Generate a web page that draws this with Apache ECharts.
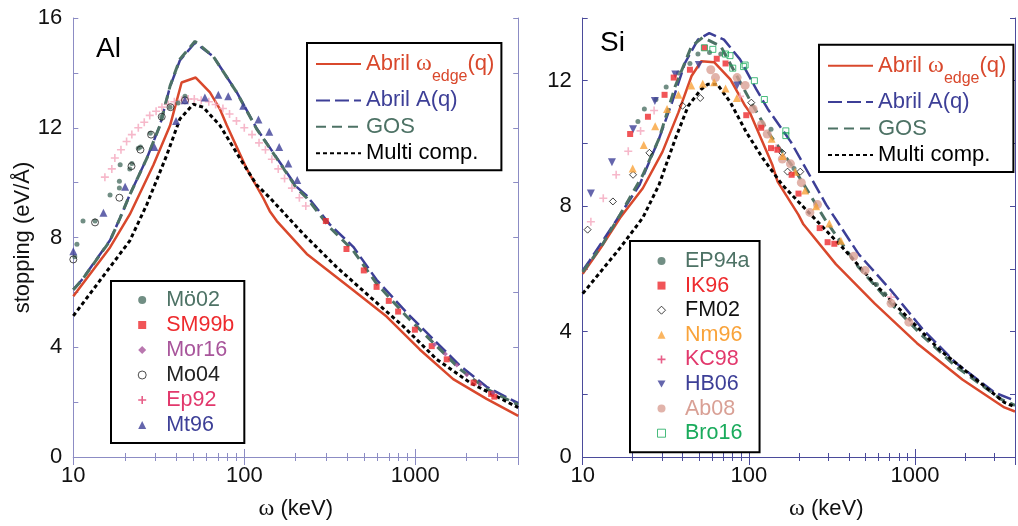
<!DOCTYPE html>
<html>
<head>
<meta charset="utf-8">
<script src="https://cdn.jsdelivr.net/npm/echarts@6/dist/echarts.min.js"></script>
<style>
  html, body { margin: 0; padding: 0; background: #fff; }
  #chart { width: 1018px; height: 526px; }
</style>
</head>
<body>
<div id="chart"></div>
<script>
// ---- data: [omega (keV), stopping (eV/Å)] ----
var xTickLabels = [10, 100, 1000];
var yTickLabels = [0, 4, 8, 12, 16];

// Al, theory curves
var alEdge  = [[10,5.86],[16.4,7.64],[21.4,8.84],[29.4,10.64],[36.8,12.08],[43,13.65],[52,13.83],[63,13.29],[72,12.68],[79,12.09],[103,10.52],[129,9.44],[141,8.96],[155,8.6],[232,7.4],[434,6.08],[680,5.12],[1062,3.92],[1667,2.84],[2612,2.12],[4000,1.5]];
var alAq    = [[10,6.1],[11.2,6.45],[16.4,7.9],[18.8,8.72],[21.4,9.56],[26.9,10.88],[32.1,12.08],[36.8,13.5],[42,14.45],[51.5,15.1],[65.9,14.6],[90.3,13.3],[118,11.98],[155,10.9],[202,9.85],[232,9.52],[317,8.47],[434,7.66],[594,6.46],[891,5.26],[1276,4.29],[1825,3.33],[2612,2.56],[4000,1.96]];
var alGos   = [[10,6.1],[11.2,6.44],[16.4,7.88],[18.8,8.72],[21.4,9.56],[26.9,10.88],[32.1,12.08],[36.8,13.52],[42,14.5],[51.5,15.15],[65.9,14.6],[90.3,13.29],[118,11.96],[155,10.88],[202,9.8],[232,9.44],[317,8.36],[434,7.52],[594,6.32],[891,5.12],[1276,4.16],[1825,3.2],[2612,2.48],[4000,1.9]];
var alMulti = [[10,5.14],[21.4,7.88],[26.9,9.2],[35.2,11.0],[42,12.32],[50.3,12.86],[57.5,12.75],[72.1,12.08],[94.4,10.88],[118,9.92],[141,9.45],[222,8.12],[347,6.92],[543,5.84],[852,4.76],[1334,3.56],[2090,2.71],[4000,1.8]];

// Al, experiments
var moe02 = [[10.2,7.3],[10.5,7.75],[11.4,8.6],[13.4,8.6],[16.4,9.55],[18.6,9.8],[18.6,10.05],[18.8,10.65],[21.4,10.5],[22,10.7],[24,11.25],[24.7,11.3],[28.2,11.8],[32.9,12.4],[36.8,12.75],[41,12.9],[45,13.15]];
var sm99b = [[300,8.6],[396,7.58],[500,6.8],[594,6.2],[700,5.69],[794,5.3],[995,4.64],[1248,4.04],[1528,3.56],[2193,2.71],[2778,2.3],[2900,2.2]];
var mor16 = [[1300,4.1],[1500,3.75],[1750,3.35],[2000,3.0],[2400,2.65],[2850,2.35]];
var mo04  = [[10,7.2],[13.4,8.55],[18.6,9.45],[21.9,10.6],[24.7,11.2],[28.5,11.75],[32.9,12.4],[37,12.75],[45,13.0]];
var ep92  = [[15.3,10.2],[16.8,10.5],[17.5,10.9],[19,11.2],[20.5,11.5],[22,11.75],[24,12.0],[26,12.2],[28,12.45],[30.5,12.6],[33,12.75],[36,12.85],[39,12.95],[43,13.0],[47,13.05],[51,13.05],[56,13.0],[62,12.95],[68,12.85],[75,12.7],[82,12.5],[90,12.25],[100,12.0],[111,11.75],[122,11.45],[133,11.2],[145,10.85],[158,10.5],[172,10.15],[190,9.8],[210,9.45],[229,9.15]];
var mt96  = [[10,7.5],[15,8.9],[20.1,9.85],[29.8,11.3],[39.9,12.25],[44.9,13.0],[58.8,13.1],[70.5,13.2],[80.6,13.15],[98.6,12.8],[121,12.3],[140,11.85],[160,11.3],[181,10.7],[204,10.1]];

// Si, theory curves
var siEdge  = [[10,5.84],[12.85,6.67],[16.8,7.63],[23,8.57],[30.2,9.73],[37.7,10.99],[45.2,12.15],[51.7,12.62],[61.8,12.59],[77.4,12.04],[95,11.2],[101.4,10.99],[138.7,9.31],[149,8.78],[198.6,7.73],[213,7.42],[334,6.15],[573,4.89],[1028,3.63],[1928,2.47],[3450,1.58],[4000,1.45]];
var siAq    = [[10,5.95],[11,6.26],[16.8,7.73],[22,8.68],[28.8,10.15],[34.5,11.31],[41.3,12.57],[49.4,13.31],[57.8,13.52],[70.8,13.31],[88.5,12.68],[110.8,11.73],[130,11.1],[179,10.05],[292,8.05],[458,6.47],[718,5.31],[1122,4.05],[1762,3.0],[3020,2.05],[4000,1.8]];
var siGos   = [[10,5.9],[11,6.2],[13.15,6.78],[16.8,7.73],[23,8.99],[28.8,10.15],[36.1,11.83],[45.2,13.1],[52.8,13.38],[67.8,13.1],[84.7,12.15],[106,11.2],[133,10.3],[187,9.2],[292,7.52],[458,6.05],[718,4.89],[1122,3.84],[1762,2.89],[3300,1.84],[4000,1.65]];
var siMulti = [[10,5.21],[16.8,6.67],[23,7.63],[28.8,8.68],[36.1,10.15],[43.2,11.2],[51.7,11.73],[56.7,11.89],[64.6,11.89],[77.4,11.31],[96.5,10.36],[121.5,9.52],[159,8.68],[198,8.15],[366,6.68],[573,5.52],[897,4.47],[1406,3.42],[2205,2.58],[3450,1.74],[4000,1.6]];

// Si, experiments
var ep94a = [[21.5,10.7],[23.5,11.1],[27.6,11.4],[31.8,11.8],[37.7,12.25],[44.2,12.55],[49.4,12.85],[58,12.9],[67.8,12.85],[136,10.45],[187,9.2],[586,5.5],[657,5.2]];
var ik96  = [[19.3,10.3],[24.7,10.85],[31.1,11.55],[35.3,12.1],[44.2,12.35],[54.1,13.05],[64.1,12.7],[72.4,12.55],[96.5,10.9],[118.7,10.5],[136,9.85],[148.5,9.8],[181,9.0],[199,8.4],[267,7.3],[298,6.85],[327,6.8]];
var fm02  = [[10.7,7.25],[15.2,8.15],[20.1,9.0],[25.2,9.7],[39.9,11.2],[51,11.45],[103.5,11.3],[159,9.7],[171,9.1],[204,9.1]];
var nm96  = [[20,9.2],[23.3,9.95],[27.3,10.55],[32.2,11.1],[37.7,11.55],[45,11.85],[52.8,11.9],[61.8,11.95],[72.4,11.75],[84.7,11.45],[137,10.15],[160,9.6],[190,9.1],[218,8.5],[254,8.0],[305,7.45],[358,6.9]];
var kc98  = [[11.2,7.5],[13.3,8.25],[15.9,9.0],[18.8,9.75],[22.3,10.4],[26.9,11.05],[88.5,11.5],[146,9.85],[718,5.1]];
var hb06  = [[11.2,8.4],[15,9.4],[20.1,10.45],[27.2,11.35],[36.1,12.2],[50,12.5],[85,11.85]];
var ab08  = [[59,12.35],[63,12.1],[85,12.1],[95,11.85],[106,11.1],[119,10.6],[129,10.3],[159,9.5],[178,9.35],[207,8.75],[233,7.8],[259,8.05],[428,6.4],[501,5.95],[718,4.9],[919,4.3]];
var bro16 = [[54,13.05],[60.7,13.0],[72.4,12.85],[77,12.8],[80,12.4],[93,12.45],[95,12.5],[108,12.0],[124,11.4],[167,10.4],[167,10.25]];

var RED = '#d9482c', BLUE = '#3d3f97', GOSC = '#4d7265';
var FONT = 'Liberation Sans, Arial, sans-serif';
var PLUS = 'path://M4,0H6V4H10V6H6V10H4V6H0V4H4Z';
var DOWN = 'path://M0,0L10,0L5,9Z';
var EDGE = 'Abril ω_edge(q)', AQ = 'Abril A(q)', GOS = 'GOS', MULTI = 'Multi comp.';

var myChart = echarts.init(document.getElementById('chart'));

function xAxes(grid, color, pos, showName, namePad) {
    return {
        gridIndex: grid, type: 'log', logBase: 10, min: 10, max: 4000, position: pos,
        axisLine: { lineStyle: { color: color, width: 1 } },
        axisTick: { inside: true, length: 8, lineStyle: { color: color } },
        minorTick: { show: true, splitNumber: 9, length: 4, lineStyle: { color: color } },
        splitLine: { show: false },
        axisLabel: {
            show: pos === 'bottom', margin: 8, color: '#111', fontSize: 22, fontFamily: FONT,
            formatter: function (v) {
                var r = Math.round(v);
                return xTickLabels.indexOf(r) >= 0 ? String(r) : '';
            }
        },
        name: showName ? '{w|ω} (keV)' : '', nameLocation: 'middle', nameGap: 40,
        nameTextStyle: {
            fontSize: 22, color: '#111', fontFamily: FONT, padding: namePad || 0,
            rich: { w: { fontFamily: 'Liberation Serif, serif', fontSize: 24, color: '#111' } }
        }
    };
}
function yAxes(grid, color, pos, max, name) {
    return {
        gridIndex: grid, type: 'value', min: 0, max: max, interval: 2, position: pos,
        axisLine: { show: true, lineStyle: { color: color, width: 1 } },
        axisTick: { show: true, inside: true, length: 5, lineStyle: { color: color } },
        splitLine: { show: false },
        axisLabel: {
            show: pos === 'left', margin: 11, color: '#111', fontSize: 22, fontFamily: FONT,
            formatter: function (v) { return yTickLabels.indexOf(v) >= 0 ? String(v) : ''; }
        },
        name: name || '', nameLocation: 'middle', nameGap: 35,
        nameTextStyle: { fontSize: 22, color: '#111', fontFamily: FONT }
    };
}
function curve(name, data, xi, color, width, dash) {
    return {
        name: name, type: 'line', xAxisIndex: xi, yAxisIndex: xi, data: data,
        symbol: 'none', smooth: false, z: 3,
        lineStyle: { color: color, width: width, type: dash || 'solid', cap: 'butt' },
        itemStyle: { color: color }
    };
}
function points(name, data, xi, symbol, size, style) {
    return {
        name: name, type: 'scatter', xAxisIndex: xi, yAxisIndex: xi, data: data,
        symbol: symbol, symbolSize: size, z: 4,
        itemStyle: style
    };
}
var hiddenDot = { color: 'rgba(0,0,0,0)', borderWidth: 0, opacity: 0 };
function theoryLegend(left, top) {
    return {
        left: left, top: top, orient: 'vertical', selectedMode: false,
        padding: [0, 7, 6, 8], itemGap: 4.4, itemWidth: 45, itemHeight: 14, itemTextGap: 4,
        borderColor: '#000', borderWidth: 2, backgroundColor: '#fff',
        itemStyle: hiddenDot,
        data: [
            { name: EDGE, textStyle: { color: RED }, itemStyle: hiddenDot },
            { name: AQ, textStyle: { color: BLUE }, itemStyle: hiddenDot },
            { name: GOS, textStyle: { color: GOSC }, itemStyle: hiddenDot },
            { name: MULTI, textStyle: { color: '#000' }, itemStyle: hiddenDot }
        ],
        formatter: function (n) {
            if (n === EDGE) return '{a|Abril }{w|ω}{s|edge}{a|(q)}';
            return '{a|' + n + '}';
        },
        textStyle: {
            fontSize: 22, fontFamily: FONT, lineHeight: 20.6,
            rich: {
                a: { fontSize: 22, fontFamily: FONT, lineHeight: 20.6, verticalAlign: 'middle' },
                w: { fontSize: 24, fontFamily: 'Liberation Serif, serif', lineHeight: 20.6, verticalAlign: 'middle' },
                s: { fontSize: 16, fontFamily: FONT, lineHeight: 18, padding: [26, 0, 0, 0], verticalAlign: 'middle' }
            }
        }
    };
}
function expLegend(left, top, pad, lh, shift, items) {
    return {
        left: left, top: top, orient: 'vertical', selectedMode: false,
        padding: pad, itemGap: 0, itemWidth: 8, itemHeight: 8, itemTextGap: 5,
        borderColor: '#000', borderWidth: 2, backgroundColor: '#fff',
        data: items,
        textStyle: { fontSize: 21.5, fontFamily: FONT, lineHeight: lh, padding: [0, 0, 0, shift] }
    };
}
function li(name, color, iconStyle) {
    return { name: name, textStyle: { color: color }, itemStyle: iconStyle || { color: color } };
}

var AXL = '#8c8cc4', AXR = '#4b4b9b';
var open = function (c) { return { color: 'rgba(255,255,255,0)', borderColor: c, borderWidth: 1 }; };

option = {
    animation: false,
    backgroundColor: '#fff',
    grid: [
        { left: 73.3, top: 18, width: 444.9, height: 444 },
        { left: 582.7, top: 18, width: 445, height: 443.7 }
    ],
    xAxis: [
        xAxes(0, AXL, 'bottom', true),
        xAxes(0, AXL, 'top', false),
        xAxes(1, AXR, 'bottom', true, [0, 0, 0, 55]),
        xAxes(1, AXR, 'top', false)
    ],
    yAxis: [
        yAxes(0, AXL, 'left', 16, 'stopping (eV/Å)'),
        yAxes(0, AXL, 'right', 16),
        yAxes(1, AXR, 'left', 14),
        yAxes(1, AXR, 'right', 14)
    ],
    legend: [
        theoryLegend(307, 43),
        theoryLegend(819, 44.7),
        expLegend(111, 281, [6.5, 10, 5.5, 26.7], 25, 15, [
            li('Mö02', GOSC), li('SM99b', '#ee2b2e'), li('Mor16', '#a8559b'),
            li('Mo04', '#222', open('#222')), li('Ep92', '#e2386c'), li('Mt96', BLUE)
        ]),
        expLegend(630, 241, [7.7, 10, 6.7, 27], 24.6, 14.5, [
            li('EP94a', GOSC), li('IK96', '#ee2b2e'), li('FM02', '#111', open('#111')),
            li('Nm96', '#f9a33a'), li('KC98', '#e2386c'), li('HB06', BLUE),
            li('Ab08', '#d9a095'), li('Bro16', '#1aab5c', open('#1aab5c'))
        ])
    ],
    graphic: [
        { type: 'text', left: 96, top: 35, style: { text: 'Al', fontSize: 28, fontFamily: FONT, fill: '#000' } },
        { type: 'text', left: 600, top: 29, style: { text: 'Si', fontSize: 28, fontFamily: FONT, fill: '#000' } }
    ],
    series: [
        curve(EDGE, alEdge, 0, RED, 2.5),
        curve(AQ, alAq, 0, BLUE, 2.5, [14, 5]),
        curve(GOS, alGos, 0, GOSC, 3, [10, 6]),
        curve(MULTI, alMulti, 0, '#000', 3, [4, 3]),
        curve(EDGE, siEdge, 2, RED, 2.5),
        curve(AQ, siAq, 2, BLUE, 2.5, [14, 5]),
        curve(GOS, siGos, 2, GOSC, 3, [10, 6]),
        curve(MULTI, siMulti, 2, '#000', 3, [4, 3]),

        points('Ep92', ep92, 0, PLUS, 8, { color: '#f4a6bd' }),
        points('Mö02', moe02, 0, 'circle', 5, { color: GOSC }),
        points('Mo04', mo04, 0, 'circle', 7, open('#222')),
        points('Mt96', mt96, 0, 'triangle', 8, { color: BLUE }),
        points('SM99b', sm99b, 0, 'rect', 6, { color: '#ee2b2e' }),
        points('Mor16', mor16, 0, 'diamond', 5, { color: '#a8559b' }),

        points('KC98', kc98, 2, PLUS, 8, { color: '#f4a6bd' }),
        points('Ab08', ab08, 2, 'circle', 9, { color: '#d9a095' }),
        points('EP94a', ep94a, 2, 'circle', 5, { color: GOSC }),
        points('FM02', fm02, 2, 'diamond', 7, open('#111')),
        points('Nm96', nm96, 2, 'triangle', 8, { color: '#f9a33a' }),
        points('HB06', hb06, 2, DOWN, 8, { color: BLUE }),
        points('IK96', ik96, 2, 'rect', 6, { color: '#ee2b2e' }),
        points('Bro16', bro16, 2, 'rect', 6, open('#1aab5c'))
    ]
};
myChart.setOption(option);
</script>
</body>
</html>
